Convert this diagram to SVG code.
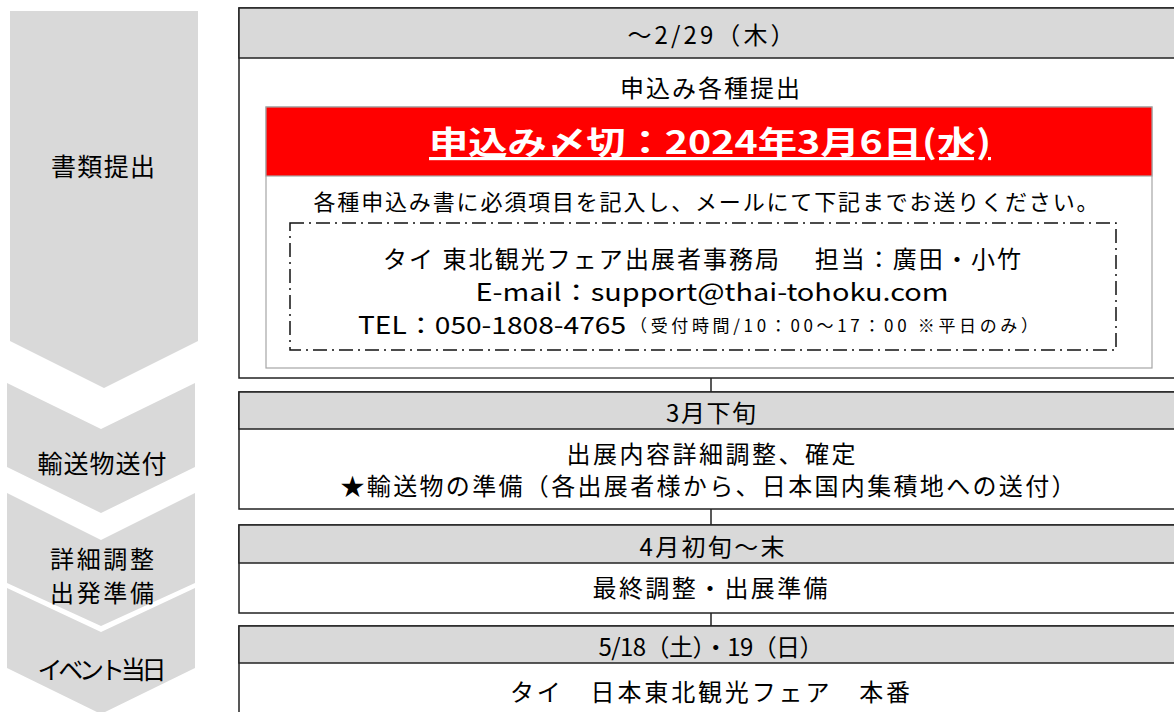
<svg xmlns="http://www.w3.org/2000/svg" width="1174" height="712" viewBox="0 0 1174 712">
<style>
text{font-family:"Noto Sans CJK JP","Noto Sans",sans-serif;fill:#000;text-anchor:middle;dominant-baseline:central}
.chev{fill:#d9d9d9}
.box{fill:#fff;stroke:#222;stroke-width:1.5}
.hdr{fill:#d9d9d9;stroke:#222;stroke-width:1.5}
.lbl{font-size:25px}
.t{font-size:24px}
.conn{stroke:#222;stroke-width:1.5;fill:none}
</style>
<rect width="1174" height="712" fill="#fff"/>
<g id="steps">
<g id="step1"><polygon class="chev" points="10,11 198,11 198,341 104,388 10,341"/><text class="lbl" x="103" y="165" textLength="104">書類提出</text></g>
<g id="step2"><polygon class="chev" points="7,383 101,429 195,383 195,467 101,513 7,467"/><text class="lbl" x="102" y="462" textLength="129">輸送物送付</text></g>
<g id="step3"><polygon class="chev" points="7,493 101,540 195,493 195,583 101,626 7,583"/><text x="102" y="557" font-size="24" textLength="104">詳細調整</text><text x="102" y="591" font-size="24" textLength="104">出発準備</text></g>
<g id="step4"><polygon class="chev" points="7,588 101,632 195,588 195,668 101,714 7,668"/><text class="lbl" x="102" y="668" textLength="129">イベント当日</text></g>
</g>
<g id="connectors">
<line class="conn" x1="711" y1="378" x2="711" y2="392"/>
<line class="conn" x1="711" y1="509" x2="711" y2="525"/>
<line class="conn" x1="711" y1="613" x2="711" y2="626"/>
</g>
<g id="box1">
<rect class="box" x="239" y="8" width="960" height="370"/>
<rect class="hdr" x="239" y="8" width="960" height="50"/>
<text class="t" x="711" y="33" textLength="167">～2/29（木）</text>
<text class="t" x="710" y="86" textLength="180">申込み各種提出</text>
<rect x="266" y="107" width="886" height="261" fill="#fff" stroke="#a6a6a6" stroke-width="1.2"/>
<rect x="266" y="107" width="886" height="69" fill="#ff0000" stroke="#a6a6a6" stroke-width="1.2"/>
<text x="710" y="140" font-size="32" font-weight="bold" style="fill:#fff" text-decoration="underline" textLength="562" lengthAdjust="spacingAndGlyphs">申込み〆切：2024年3月6日(水)</text>
<text x="706" y="200" font-size="22" textLength="785">各種申込み書に必須項目を記入し、メールにて下記までお送りください。</text>
<rect x="290" y="223" width="826" height="127" fill="none" stroke="#111" stroke-width="1.5" stroke-dasharray="14 5 2 5"/>
<text x="702" y="257" font-size="24" textLength="638">タイ 東北観光フェア出展者事務局　 担当：廣田・小竹</text>
<text x="712" y="290" font-size="24" textLength="473" lengthAdjust="spacingAndGlyphs">E-mail：support@thai-tohoku.com</text>
<text x="492" y="323" font-size="24" textLength="268" lengthAdjust="spacingAndGlyphs">TEL：050-1808-4765</text>
<text x="834" y="324" font-size="17" textLength="408">（受付時間/10：00～17：00 ※平日のみ）</text>
</g>
<g id="box2">
<rect class="box" x="239" y="392" width="960" height="117"/>
<rect class="hdr" x="239" y="392" width="960" height="37"/>
<text class="t" x="711" y="411" textLength="90">3月下旬</text>
<text class="t" x="711" y="452" textLength="289">出展内容詳細調整、確定</text>
<text class="t" x="708" y="484" textLength="735">★輸送物の準備（各出展者様から、日本国内集積地への送付）</text>
</g>
<g id="box3">
<rect class="box" x="239" y="525" width="960" height="88"/>
<rect class="hdr" x="239" y="525" width="960" height="38"/>
<text class="t" x="712" y="545" textLength="145">4月初旬～末</text>
<text class="t" x="710" y="586" textLength="235">最終調整・出展準備</text>
</g>
<g id="box4">
<rect class="box" x="239" y="626" width="960" height="100"/>
<rect class="hdr" x="239" y="626" width="960" height="37"/>
<text class="t" x="711" y="645" textLength="225">5/18（土）・19（日）</text>
<text class="t" x="710" y="690" textLength="400">タイ　日本東北観光フェア　本番</text>
</g>
</svg>
